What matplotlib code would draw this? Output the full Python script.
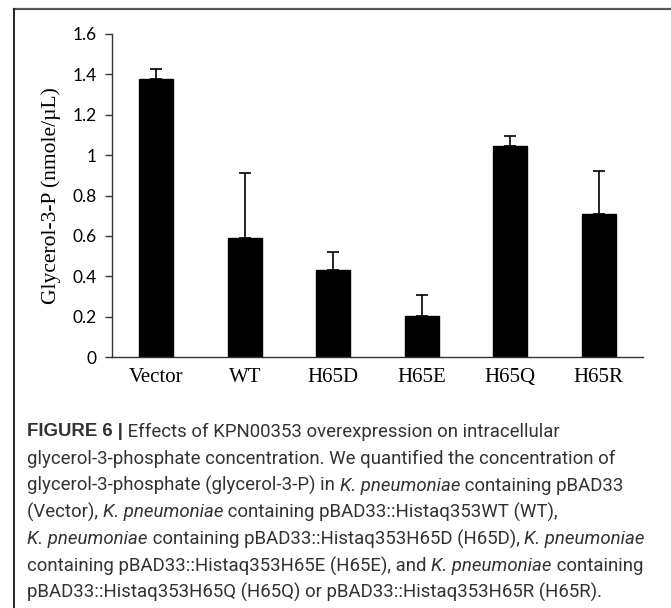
import numpy as np
import matplotlib
matplotlib.use("Agg")
import matplotlib.pyplot as plt
from matplotlib.lines import Line2D

# data
groups = ["Vector", "WT", "H65D", "H65E", "H65Q", "H65R"]
glycerol = [1.375, 0.59, 0.43, 0.205, 1.045, 0.71]
err_up = [0.05, 0.32, 0.09, 0.10, 0.05, 0.21]
yticks = [0, 0.2, 0.4, 0.6, 0.8, 1, 1.2, 1.4, 1.6]
ytick_labels = ["0", "0.2", "0.4", "0.6", "0.8", "1", "1.2", "1.4", "1.6"]

W, H = 671, 608
fig = plt.figure(figsize=(W / 100, H / 100), dpi=100)
ax = fig.add_axes([112 / W, 1 - 357 / H, (643 - 112) / W, (357 - 34) / H])

x = np.arange(len(groups))
ax.bar(x, glycerol, width=0.385, color="black", edgecolor="black", zorder=2)
ax.errorbar(x, glycerol, yerr=[np.zeros(len(err_up)), err_up], fmt="none",
            ecolor="black", elinewidth=1.2, capsize=4, capthick=1.2, zorder=1)

ax.set_xlim(-0.5, len(groups) - 0.5)
ax.set_ylim(0, 1.6)
ax.set_yticks(yticks)
ax.set_yticklabels(ytick_labels, fontfamily="Lato", fontsize=12.5)
ax.set_xticks(x)
ax.set_xticklabels(groups, fontfamily="Liberation Serif", fontsize=15)
ax.tick_params(axis="x", length=0, pad=8)
ax.tick_params(axis="y", length=5, width=1, direction="out", pad=6, color="#333333")
ax.spines["top"].set_visible(False)
ax.spines["right"].set_visible(False)
for s in ("left", "bottom"):
    ax.spines[s].set_color("#333333")
    ax.spines[s].set_linewidth(1.0)
ax.set_ylabel("Glycerol-3-P (nmole/\u00b5L)", fontfamily="Liberation Serif",
              fontsize=15.5, labelpad=8)

# frame lines (top and left)
fig.add_artist(Line2D([14 / W, 1], [1 - 9 / H, 1 - 9 / H], color="#555555",
                      lw=1.6, transform=fig.transFigure))
fig.add_artist(Line2D([14 / W, 14 / W], [1 - 9 / H, 0], color="#222222",
                      lw=1.4, transform=fig.transFigure))

# caption, drawn run by run
cap_font = ["Roboto", "DejaVu Sans"]
cap_size = 13.4
cap_lines = [
    [("FIGURE 6 |", "bold"), (" Effects of KPN00353 overexpression on intracellular", "")],
    [("glycerol-3-phosphate concentration. We quantified the concentration of", "")],
    [("glycerol-3-phosphate (glycerol-3-P) in ", ""), ("K. pneumoniae", "it"),
     (" containing pBAD33", "")],
    [("(Vector), ", ""), ("K. pneumoniae", "it"),
     (" containing pBAD33::Histaq353WT (WT),", "")],
    [("K. pneumoniae", "it"), (" containing pBAD33::Histaq353H65D (H65D), ", ""),
     ("K. pneumoniae", "it")],
    [("containing pBAD33::Histaq353H65E (H65E), and ", ""), ("K. pneumoniae", "it"),
     (" containing", "")],
    [("pBAD33::Histaq353H65Q (H65Q) or pBAD33::Histaq353H65R (H65R).", "")],
]
renderer = fig.canvas.get_renderer()
y0, dy = 432, 26.8
for i, line in enumerate(cap_lines):
    xp = 27
    for txt, sty in line:
        kw = dict(fontsize=cap_size, color="#333333", va="center", ha="left")
        if sty == "bold":
            kw.update(fontfamily=["Liberation Sans", "DejaVu Sans"], fontweight="bold")
        else:
            kw.update(fontfamily=cap_font)
        if sty == "it":
            kw.update(fontstyle="italic")
        t = fig.text(xp / W, 1 - (y0 + i * dy) / H, txt, **kw)
        bb = t.get_window_extent(renderer)
        xp += bb.width

fig.savefig("out.png", dpi=100)
